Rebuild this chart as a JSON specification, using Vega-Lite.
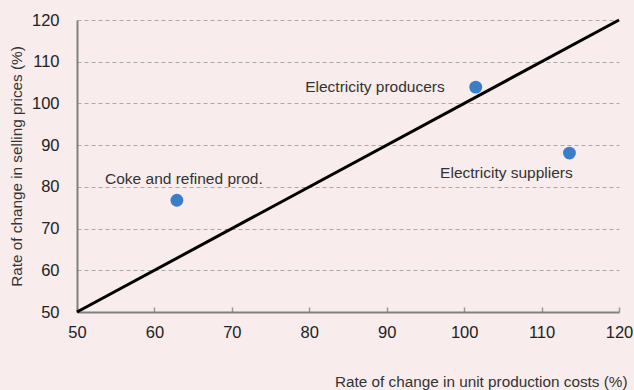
{
  "$schema": "https://vega.github.io/schema/vega-lite/v6.json",
  "width": 542,
  "height": 292,
  "autosize": "none",
  "padding": {"left": 77, "top": 20, "right": 15, "bottom": 78},
  "background": "#f8ecec",
  "config": {
    "view": {"stroke": null},
    "font": "Liberation Sans",
    "axis": {"labelFont": "Liberation Sans", "titleFont": "Liberation Sans", "labelColor": "#222", "titleColor": "#333", "domainColor": "#808080", "domainWidth": 2, "tickColor": "#999", "titleFontWeight": "normal", "labelFontSize": 16.5, "titleFontSize": 15.3, "labelFlush": false, "labelOverlap": false}
  },
  "datasets": {
    "pts": [
      {"sector": "Electricity producers", "cost": 101.5, "price": 103.9},
      {"sector": "Electricity suppliers", "cost": 113.6, "price": 88.1},
      {"sector": "Coke and refined prod.", "cost": 62.9, "price": 76.8}
    ],
    "diag": [
      {"cost": 50, "price": 50},
      {"cost": 120, "price": 120}
    ]
  },
  "layer": [
    {
      "data": {"name": "diag"},
      "mark": {"type": "line", "color": "black", "strokeWidth": 3},
      "encoding": {
        "x": {"field": "cost", "type": "quantitative", "scale": {"domain": [50, 120], "nice": false},
          "axis": {"title": "Rate of change in unit production costs (%)", "values": [50,60,70,80,90,100,110,120], "grid": false, "tickSize": -5, "tickWidth": 1.5, "labelPadding": 17, "titleAnchor": "end", "titleAlign": "right", "titleX": 550, "titleY": 74, "titleBaseline": "alphabetic"}},
        "y": {"field": "price", "type": "quantitative", "scale": {"domain": [50, 120], "nice": false},
          "axis": {"title": "Rate of change in selling prices (%)", "values": [50,60,70,80,90,100,110,120], "ticks": false, "labelPadding": 18, "grid": true, "gridDash": [4, 3], "gridColor": "#aaa", "gridWidth": 1, "titleX": -61, "titleY": 146, "titleAngle": -90, "titleAlign": "center", "titleBaseline": "middle"}}
      }
    },
    {
      "data": {"name": "pts"},
      "mark": {"type": "circle", "size": 165, "color": "#3b7dc8", "opacity": 1},
      "encoding": {
        "x": {"field": "cost", "type": "quantitative"},
        "y": {"field": "price", "type": "quantitative"}
      }
    },
    {
      "data": {"name": "pts"},
      "transform": [{"filter": "datum.sector == 'Electricity producers'"}],
      "mark": {"type": "text", "align": "right", "baseline": "middle", "dx": -31, "dy": 0, "fontSize": 15.5, "color": "#333"},
      "encoding": {"x": {"field": "cost", "type": "quantitative"}, "y": {"field": "price", "type": "quantitative"}, "text": {"field": "sector"}}
    },
    {
      "data": {"name": "pts"},
      "transform": [{"filter": "datum.sector == 'Electricity suppliers'"}],
      "mark": {"type": "text", "align": "center", "baseline": "middle", "dx": -63, "dy": 20, "fontSize": 15.5, "color": "#333"},
      "encoding": {"x": {"field": "cost", "type": "quantitative"}, "y": {"field": "price", "type": "quantitative"}, "text": {"field": "sector"}}
    },
    {
      "data": {"name": "pts"},
      "transform": [{"filter": "datum.sector == 'Coke and refined prod.'"}],
      "mark": {"type": "text", "align": "center", "baseline": "middle", "dx": 7, "dy": -21, "fontSize": 15.5, "color": "#333"},
      "encoding": {"x": {"field": "cost", "type": "quantitative"}, "y": {"field": "price", "type": "quantitative"}, "text": {"field": "sector"}}
    }
  ]
}
